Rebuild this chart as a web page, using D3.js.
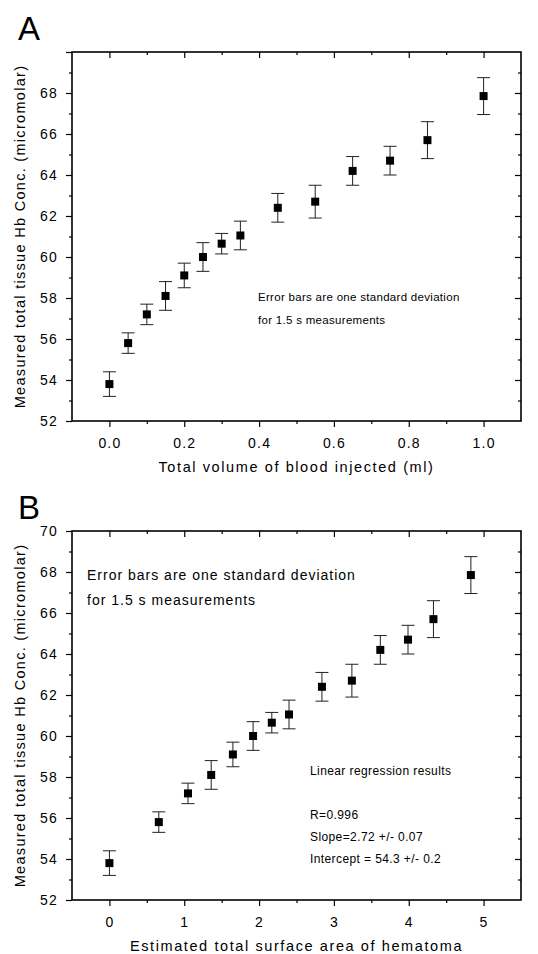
<!DOCTYPE html>
<html>
<head>
<meta charset="utf-8">
<script src="https://cdn.jsdelivr.net/npm/d3@7"></script>
<style>
  body { margin: 0; background: #fff; }
  svg { display: block; font-family: "Liberation Sans", Arial, sans-serif; }
  .frame { fill: none; stroke: #000; stroke-width: 1.6; }
  .axis path { display: none; }
  .axis line { stroke: #000; stroke-width: 1.2; }
  .axis text { font-size: 14px; fill: #000; letter-spacing: 1.2px; }
  .err { stroke: #222; stroke-width: 1; }
  .note { fill: #000; }
</style>
</head>
<body>
<div id="chart"></div>
<script>
// data
const volume = [0, 0.05, 0.1, 0.15, 0.2, 0.25, 0.3, 0.35, 0.45, 0.55, 0.65, 0.75, 0.85, 1.0];
const area = [0, 0.66, 1.05, 1.36, 1.65, 1.92, 2.17, 2.40, 2.84, 3.24, 3.62, 3.99, 4.33, 4.83];
const hbConc = [53.8, 55.8, 57.2, 58.1, 59.1, 60.0, 60.65, 61.05, 62.4, 62.7, 64.2, 64.7, 65.7, 67.85];
const hbSd = [0.6, 0.5, 0.5, 0.7, 0.6, 0.7, 0.5, 0.7, 0.7, 0.8, 0.7, 0.7, 0.9, 0.9];

const yTicks = [52, 54, 56, 58, 60, 62, 64, 66, 68, 70];
const yMinor = [53, 55, 57, 59, 61, 63, 65, 67, 69];
const xTicksA = [0, 0.2, 0.4, 0.6, 0.8, 1.0];
const xMinorA = [0.1, 0.3, 0.5, 0.7, 0.9];
const xTicksB = [0, 1, 2, 3, 4, 5];
const xMinorB = [-0.5, 0.5, 1.5, 2.5, 3.5, 4.5, 5.5];

const yTitle = 'Measured total tissue Hb Conc. (micromolar)';
const noteLines = ['Error bars are one standard deviation', 'for 1.5 s measurements'];
const regLines = ['Linear regression results', '', 'R=0.996', 'Slope=2.72 +/- 0.07', 'Intercept = 54.3 +/- 0.2'];

const W = 538, H = 954;
const svg = d3.select('#chart').append('svg').attr('width', W).attr('height', H);

function panel(opts) {
  const left = 72, right = 521;
  const top = opts.top, bottom = opts.top + 369;
  const x = d3.scaleLinear().domain(opts.xDomain).range([left, right]);
  const y = d3.scaleLinear().domain([52, 70]).range([bottom, top]);
  const g = svg.append('g');
  const inside = v => x(v) > left + 1 && x(v) < right - 1;

  // panel letter
  g.append('text').attr('x', 18).attr('y', top - 12)
    .style('font-size', '33px').text(opts.letter);

  // minor ticks
  g.append('g').attr('class', 'axis').attr('transform', `translate(0,${bottom})`)
    .call(d3.axisBottom(x).tickValues(opts.xMinor.filter(inside)).tickSize(3).tickFormat(''));
  g.append('g').attr('class', 'axis').attr('transform', `translate(0,${top})`)
    .call(d3.axisBottom(x).tickValues(opts.xMinor.filter(inside)).tickSize(3).tickFormat(''));
  g.append('g').attr('class', 'axis').attr('transform', `translate(${left},0)`)
    .call(d3.axisLeft(y).tickValues(yMinor).tickSize(3).tickFormat(''));
  g.append('g').attr('class', 'axis').attr('transform', `translate(${right},0)`)
    .call(d3.axisLeft(y).tickValues(yMinor).tickSize(3).tickFormat(''));

  // major ticks
  g.append('g').attr('class', 'axis').attr('transform', `translate(0,${bottom})`)
    .call(d3.axisBottom(x).tickValues(opts.xTicks).tickSize(6).tickPadding(11).tickFormat(opts.xFormat));
  g.append('g').attr('class', 'axis').attr('transform', `translate(0,${top})`)
    .call(d3.axisBottom(x).tickValues(opts.xTicks).tickSize(6).tickFormat(''));
  g.append('g').attr('class', 'axis').attr('transform', `translate(${left},0)`)
    .call(d3.axisLeft(y).tickValues(yTicks).tickSize(6).tickPadding(8)
      .tickFormat(d => (opts.hideTop && d === 70) ? '' : d));
  g.append('g').attr('class', 'axis').attr('transform', `translate(${right},0)`)
    .call(d3.axisLeft(y).tickValues(yTicks.filter(d => d > 52 && d < 70)).tickSize(6).tickFormat(''));

  g.append('rect').attr('class', 'frame')
    .attr('x', left).attr('y', top).attr('width', right - left).attr('height', bottom - top);

  // error bars + squares
  const pts = opts.xs.map((v, i) => ({ x: v, y: hbConc[i], sd: hbSd[i] }));
  const pg = g.selectAll('.pt').data(pts).enter().append('g').attr('class', 'pt');
  pg.append('line').attr('class', 'err')
    .attr('x1', d => x(d.x)).attr('x2', d => x(d.x))
    .attr('y1', d => y(d.y + d.sd)).attr('y2', d => y(d.y - d.sd));
  pg.append('line').attr('class', 'err')
    .attr('x1', d => x(d.x) - 6.5).attr('x2', d => x(d.x) + 6.5)
    .attr('y1', d => y(d.y + d.sd)).attr('y2', d => y(d.y + d.sd));
  pg.append('line').attr('class', 'err')
    .attr('x1', d => x(d.x) - 6.5).attr('x2', d => x(d.x) + 6.5)
    .attr('y1', d => y(d.y - d.sd)).attr('y2', d => y(d.y - d.sd));
  pg.append('rect')
    .attr('x', d => x(d.x) - 4).attr('y', d => y(d.y) - 4)
    .attr('width', 8).attr('height', 8).attr('fill', '#000');

  // axis titles
  g.append('text').attr('x', (left + right) / 2).attr('y', bottom + 51)
    .attr('text-anchor', 'middle').style('font-size', '14.5px').style('letter-spacing', '1.6px')
    .text(opts.xTitle);
  g.append('text')
    .attr('transform', `translate(25,${(top + bottom) / 2}) rotate(-90)`)
    .attr('text-anchor', 'middle').style('font-size', '14.5px').style('letter-spacing', '1.3px')
    .text(yTitle);

  return { g, x, y };
}

const A = panel({
  letter: 'A', top: 52, xDomain: [-0.1, 1.1],
  xTicks: xTicksA, xMinor: xMinorA, xFormat: d3.format('.1f'), hideTop: true, xs: volume,
  xTitle: 'Total volume of blood injected (ml)'
});
A.g.selectAll('.noteA').data(noteLines).enter().append('text').attr('class', 'note')
  .attr('x', 258).attr('y', (d, i) => 301 + i * 23)
  .style('font-size', '11.5px').style('letter-spacing', '0.3px').text(d => d);

const B = panel({
  letter: 'B', top: 531, xDomain: [-0.5, 5.5],
  xTicks: xTicksB, xMinor: xMinorB, xFormat: d3.format('d'), hideTop: false, xs: area,
  xTitle: 'Estimated total surface area of hematoma'
});
B.g.selectAll('.noteB').data(noteLines).enter().append('text').attr('class', 'note')
  .attr('x', 87).attr('y', (d, i) => 580 + i * 25)
  .style('font-size', '14px').style('letter-spacing', '1px').text(d => d);
B.g.selectAll('.reg').data(regLines).enter().append('text').attr('class', 'note')
  .attr('x', 310).attr('y', (d, i) => 775 + i * 22)
  .style('font-size', '12px').style('letter-spacing', '0.4px').text(d => d);
</script>
</body>
</html>
